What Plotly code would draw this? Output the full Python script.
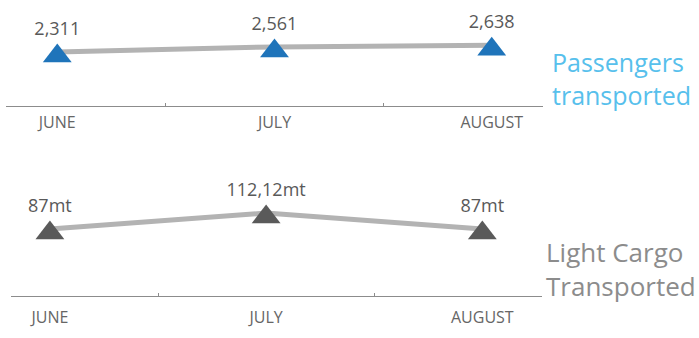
import plotly.graph_objects as go

months = ["JUNE", "JULY", "AUGUST"]
passengers = [2311, 2561, 2638]
cargo = [87, 112.12, 87]

passenger_labels = [f"{v:,}" for v in passengers]
cargo_labels = [f"{v:g}".replace(".", ",") + "mt" for v in cargo]

xpos = list(range(len(months)))

LINE = "#b3b3b3"
TXT = "#595959"
AX = "#8c8c8c"
FONT = "Open Sans"
MSIZE = 25

fig = go.Figure()

# top panel
fig.add_trace(go.Scatter(x=xpos, y=passengers, mode="lines",
                         line=dict(color=LINE, width=5), xaxis="x", yaxis="y",
                         hoverinfo="skip", showlegend=False))
fig.add_trace(go.Scatter(x=xpos, y=passengers, mode="markers+text",
                         marker=dict(symbol="triangle-up", size=MSIZE, color="#1f74ba", line=dict(width=0)),
                         text=passenger_labels, textposition="top center",
                         textfont=dict(family=FONT, size=18, color=TXT),
                         xaxis="x", yaxis="y3", cliponaxis=False, showlegend=False))

# bottom panel
fig.add_trace(go.Scatter(x=xpos, y=cargo, mode="lines",
                         line=dict(color=LINE, width=5), xaxis="x2", yaxis="y2",
                         hoverinfo="skip", showlegend=False))
fig.add_trace(go.Scatter(x=xpos, y=cargo, mode="markers+text",
                         marker=dict(symbol="triangle-up", size=MSIZE, color="#5a5a5a", line=dict(width=0)),
                         text=cargo_labels, textposition="top center",
                         textfont=dict(family=FONT, size=18, color=TXT),
                         xaxis="x2", yaxis="y4", cliponaxis=False, showlegend=False))

W, H = 699, 338

def xax(left_px, right_px, rng, standoff):
    return dict(domain=[left_px / W, right_px / W], range=rng,
                showgrid=False, zeroline=False, showline=True, linecolor=AX, linewidth=1,
                tickmode="array", tickvals=xpos, ticktext=months, ticks="",
                tickfont=dict(family=FONT, size=16, color="#666666"),
                ticklabelstandoff=standoff,
                minor=dict(tickmode="array", tickvals=[0.5, 1.5], ticks="inside",
                           ticklen=3, tickcolor=AX, tickwidth=1, showgrid=False),
                fixedrange=True)

# shift markers (px) so the triangle is centred vertically on the line
r = MSIZE / 2
shift_px = 8.5 - r
top_shift = shift_px / 0.0205
bot_shift = shift_px / 0.637
top_rng = [-299, 4848]
bot_rng = [-18.2, 179.6]

fig.update_layout(
    width=W, height=H,
    margin=dict(l=0, r=0, t=0, b=0),
    paper_bgcolor="white", plot_bgcolor="white",
    font=dict(family=FONT),
    xaxis=xax(6, 543, [-0.236, 2.236], 2),
    xaxis2=dict(xax(11, 542, [-0.18, 2.276], 7), anchor="y2"),
    yaxis=dict(domain=[1 - 105.5 / H, 1], range=top_rng, visible=False, fixedrange=True),
    yaxis2=dict(domain=[1 - 296 / H, 1 - 170 / H], range=bot_rng, visible=False, fixedrange=True),
    yaxis3=dict(overlaying="y", range=[top_rng[0] - top_shift, top_rng[1] - top_shift],
                visible=False, fixedrange=True),
    yaxis4=dict(overlaying="y2", range=[bot_rng[0] - bot_shift, bot_rng[1] - bot_shift],
                visible=False, fixedrange=True),
    annotations=[
        dict(text="Passengers<br>transported", xref="paper", yref="paper",
             x=550 / W, y=1 - 78 / H, xanchor="left", yanchor="middle", align="left",
             showarrow=False, font=dict(family=FONT, size=25, color="#57c0ec")),
        dict(text="Light Cargo<br>Transported", xref="paper", yref="paper",
             x=544 / W, y=1 - 269 / H, xanchor="left", yanchor="middle", align="left",
             showarrow=False, font=dict(family=FONT, size=26, color="#8c8c8c")),
    ],
)

fig.write_html("out.html", config={"displayModeBar": False},
               post_script="document.body.style.margin='0px';")
